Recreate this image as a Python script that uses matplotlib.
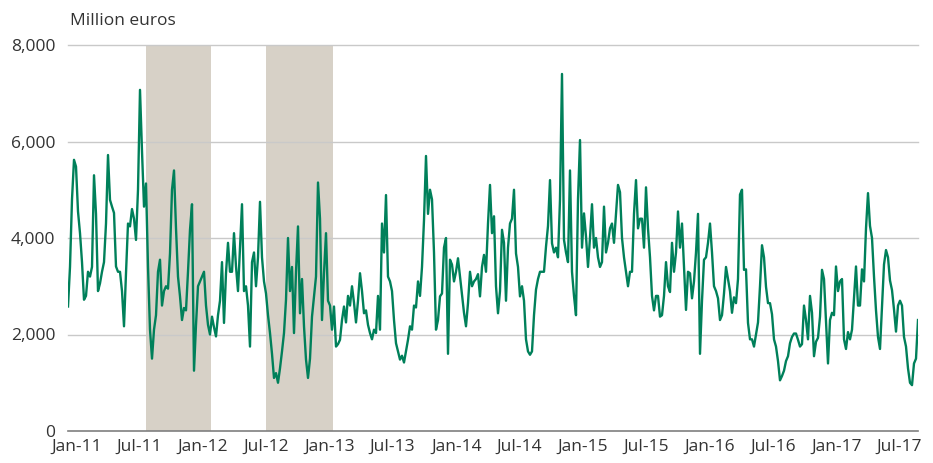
import matplotlib
matplotlib.use("Agg")
import matplotlib.pyplot as plt
import numpy as np
import pandas as pd

plt.rcParams['font.family'] = ['Open Sans', 'DejaVu Sans']

# Series values (million euros), evenly spaced in time
v_dec10_oct11 = [2580, 3400, 4800, 5620, 5480, 4550, 4100, 3500, 2720, 2800,
                 3300, 3200, 3400, 5300, 4500, 2900, 3060, 3300, 3500, 4300,
                 5720, 4790, 4650, 4520, 3410, 3300, 3300, 2900, 2170, 3270,
                 4300, 4240, 4600, 4400, 3960, 5000, 7070, 5800, 4650, 5130,
                 3400, 2100, 1500, 2100, 2400, 3300, 3550, 2600, 2900, 3000,
                 2950, 3680]
v_oct11_sep12 = [5000, 5400, 4200, 3200, 2790, 2300, 2550, 2500, 3300, 4170,
                 4700, 1250, 2200, 3000, 3100, 3200, 3300, 2600, 2200, 2000,
                 2370, 2150, 1960, 2400, 2700, 3500, 2240, 3270, 3900, 3300,
                 3300, 4100, 3410, 2900, 3800, 4700, 2900, 3000, 2600, 1750,
                 3500, 3700, 3000, 3600, 4750, 3600, 3100, 2850, 2400, 2030,
                 1600, 1100]
v_sep12_aug13 = [1200, 1000, 1300, 1650, 2030, 2720, 4000, 2900, 3400, 2030,
                 3300, 4240, 2440, 3150, 2170, 1480, 1100, 1500, 2370, 2790,
                 3200, 5150, 4400, 2300, 3270, 4100, 2700, 2600, 2100, 2580,
                 1750, 1800, 1890, 2300, 2580, 2250, 2800, 2600, 3000, 2660,
                 2250, 2700, 3270, 2900, 2440, 2500, 2200, 2030, 1900, 2100]
v_aug13_jul14 = [2030, 2800, 2100, 4300, 3700, 4890, 3200, 3100, 2900, 2300,
                 1820, 1650, 1480, 1560, 1420, 1650, 1890, 2170, 2100, 2600,
                 2560, 3100, 2800, 3400, 4370, 5700, 4500, 5000, 4800, 3700,
                 2100, 2300, 2790, 2850, 3800, 4000, 1600, 3550, 3450, 3100,
                 3300, 3580, 3200, 2800, 2450, 2170, 2650, 3300, 3000, 3100,
                 3150, 3250]
v_jul14_jun15 = [2790, 3400, 3650, 3300, 4300, 5100, 4100, 4450, 3000, 2440,
                 2900, 4170, 3900, 2700, 3800, 4300, 4400, 5000, 3680, 3400,
                 2790, 3000, 2700, 1900, 1650, 1580, 1650, 2400, 2930, 3150,
                 3300, 3300, 3300, 3820, 4250, 5200, 3890, 3700, 3800, 3600,
                 4800, 7400, 3960, 3700, 3500, 5400, 3300, 2800, 2400, 4800,
                 6030, 3800]
v_jun15_may16 = [4510, 4030, 3400, 4000, 4700, 3800, 4000, 3600, 3400, 3500,
                 4650, 3700, 3900, 4200, 4300, 3900, 4500, 5100, 4950, 4000,
                 3600, 3300, 3000, 3300, 3300, 4500, 5200, 4200, 4400, 4400,
                 3800, 5050, 4200, 3600, 2800, 2500, 2800, 2800, 2370, 2400,
                 2800, 3500, 3000, 2880, 3900, 3300, 3700, 4550, 3800, 4300,
                 3400, 2510]
v_may16_feb17 = [3300, 3270, 2750, 3100, 3700, 4500, 1600, 2700, 3550, 3600,
                 3900, 4300, 3700, 3000, 2900, 2750, 2300, 2400, 2850, 3400,
                 3150, 2900, 2450, 2770, 2650, 3150, 4900, 5000, 3340, 3350,
                 2240, 1900, 1900, 1750, 2000, 2250, 3000, 3850, 3600, 2990,
                 2650, 2650, 2420, 1900, 1750, 1450, 1050, 1140, 1250, 1450,
                 1550, 1820, 1950, 2020, 2020, 1890, 1750, 1800, 2600, 2300]
v_feb17_aug17 = [1900, 2800, 2450, 1550, 1850, 1930, 2370, 3340, 3150, 2250,
                 1400, 2300, 2450, 2400, 3410, 2900, 3100, 3150, 1900, 1700,
                 2050, 1900, 2100, 2750, 3410, 2600, 2600, 3350, 3100, 4200,
                 4930, 4250, 4000, 3200, 2500, 1950, 1700, 2600, 3450, 3750,
                 3600, 3120, 2920, 2520, 2060, 2600, 2700, 2600, 1950, 1750,
                 1300, 1000, 950, 1400, 1500, 2300]

series_start = "2010-12-08"
series_end = "2017-08-24"

# Shaded periods
shade_starts = ["2011-07-20", "2012-07-01"]
shade_ends = ["2012-01-24", "2013-01-10"]

tick_dates = ["2011-01-01", "2011-07-01", "2012-01-01", "2012-07-01", "2013-01-01",
              "2013-07-01", "2014-01-01", "2014-07-01", "2015-01-01", "2015-07-01",
              "2016-01-01", "2016-07-01", "2017-01-01", "2017-07-01"]
tick_labels = ["Jan-11", "Jul-11", "Jan-12", "Jul-12", "Jan-13", "Jul-13", "Jan-14",
               "Jul-14", "Jan-15", "Jul-15", "Jan-16", "Jul-16", "Jan-17", "Jul-17"]
y_ticks = [0, 2000, 4000, 6000, 8000]

values = np.array(v_dec10_oct11 + v_oct11_sep12 + v_sep12_aug13 + v_aug13_jul14 +
                  v_jul14_jun15 + v_jun15_may16 + v_may16_feb17 + v_feb17_aug17, dtype=float)
dates = pd.date_range(series_start, series_end, periods=len(values))

fig = plt.figure(figsize=(9.33, 4.63), dpi=100)
ax = fig.add_axes([68 / 933, 1 - 431 / 463, 850 / 933, 386 / 463])

for s, e in zip(shade_starts, shade_ends):
    ax.axvspan(pd.Timestamp(s), pd.Timestamp(e), color="#d7d1c7", lw=0, zorder=0)

for yv in y_ticks[1:]:
    ax.axhline(yv, color="#c9c9c9", lw=1.0, zorder=1, clip_on=False)
ax.axhline(0, color="#7f7f7f", lw=1.2, zorder=3, clip_on=False)

ax.plot(dates, values, color="#00805a", lw=1.7, zorder=4, solid_joinstyle="round")

ax.set_xlim(dates[0], dates[-1])
ax.set_ylim(0, 8000)
for sp in ax.spines.values():
    sp.set_visible(False)

ax.set_yticks(y_ticks)
ax.set_yticklabels([f"{v:,}" for v in y_ticks])
ax.set_xticks([pd.Timestamp(d) for d in tick_dates])
ax.set_xticklabels(tick_labels)
ax.tick_params(axis="both", length=0, labelsize=12.5, colors="#333333")
ax.tick_params(axis="y", pad=9)
ax.tick_params(axis="x", pad=6)

fig.text(70 / 933, 1 - 21 / 463, "Million euros", fontsize=12.5, color="#333333",
         ha="left", va="center")

fig.savefig("out.png", dpi=100)
